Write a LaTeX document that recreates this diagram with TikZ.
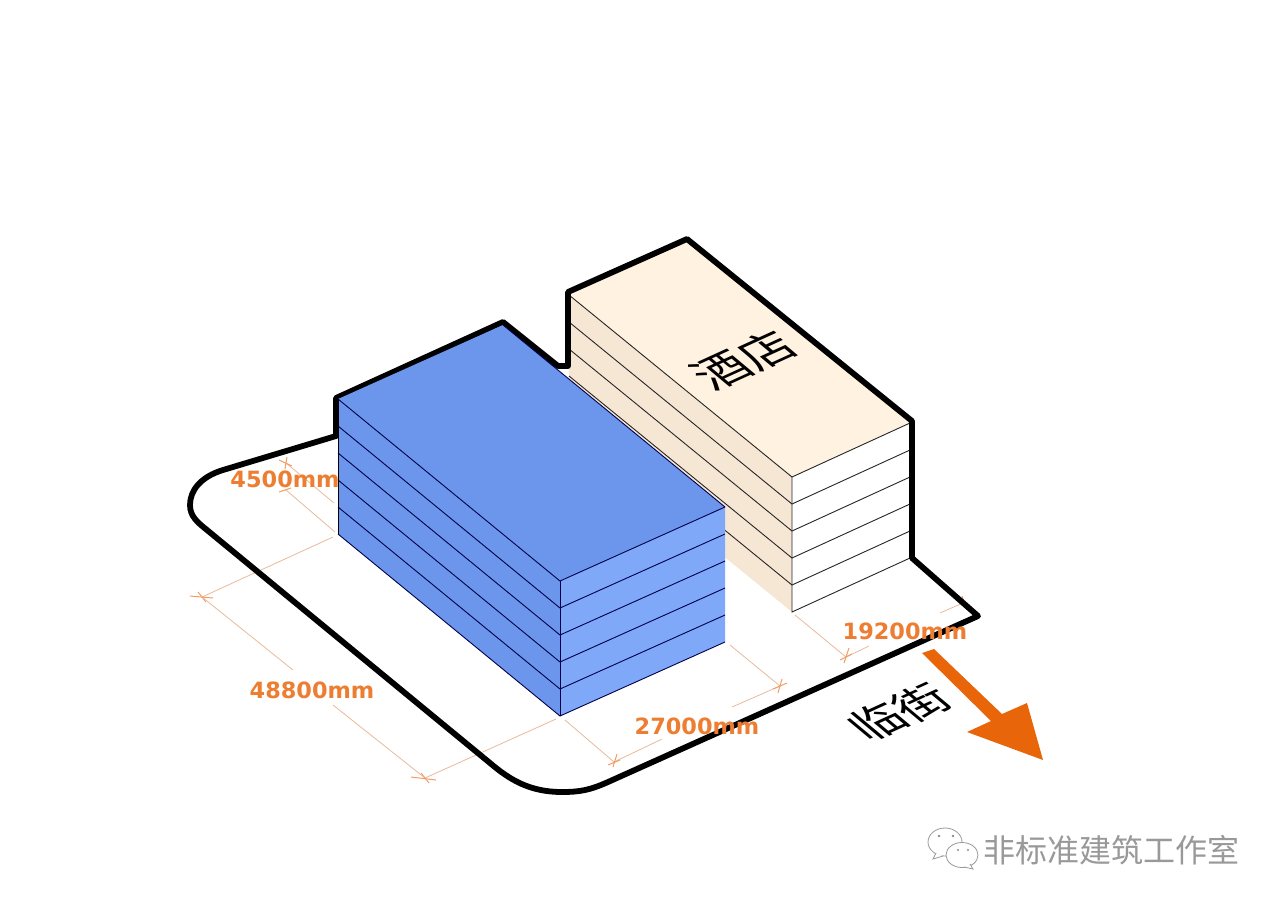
\documentclass[tikz,border=0pt]{standalone}
\usepackage{fontspec}
\setmainfont{DejaVu Sans}
\newfontfamily\cjk{Noto Sans CJK SC}
\definecolor{blueTop}{HTML}{6C96EC}
\definecolor{blueLeft}{HTML}{6C96EC}
\definecolor{blueRight}{HTML}{7FA8F8}
\definecolor{hotelTop}{HTML}{FFF2E0}
\definecolor{hotelLeft}{HTML}{F6E7D5}
\definecolor{dimOrange}{HTML}{ED7D31}
\definecolor{dimLine}{HTML}{E9B99A}
\definecolor{arrowOrange}{HTML}{E8650A}
\tikzset{
 outline/.style={line width=2.9pt,line join=round,black},
 edge/.style={line width=0.45pt,draw=black!85},
 blueedge/.style={line width=0.45pt,draw=black!70!blue},
 dimstyle/.style={line width=0.4pt,draw=dimLine},
 tickstyle/.style={line width=0.5pt,draw=dimOrange!75},
 dimlabel/.style={font=\bfseries\fontsize{11.2}{13}\selectfont,text=dimOrange,inner sep=0pt},
 bubble/.style={line width=0.4pt,draw=black!40,fill=white},
}
\begin{document}
\begin{tikzpicture}[x=0.5pt,y=-0.5pt]
\useasboundingbox (0,0) rectangle (1280,907);
% hotel
\fill[hotelTop] (569,295) -- (687,241) -- (910,423) -- (792,477) -- cycle;
\fill[hotelLeft] (569,295) -- (792,477) -- (792,612) -- (569,430) -- cycle;
\fill[white] (792,477) -- (910,423) -- (910,558) -- (792,612) -- cycle;
\draw[edge] (569,295) -- (792,477) -- (910,423);
\draw[edge] (792,477) -- (792,612) -- (910,558);
\foreach \k in {1,...,4}{
  \draw[edge] (569,295+27*\k) -- (792,477+27*\k) -- (910,423+27*\k);
}
% dimension lines
\draw[dimstyle] (286,463) -- (334,503);
\draw[dimstyle] (286,490) -- (335,532);
\draw[dimstyle] (333,537) -- (202,597);
\draw[dimstyle] (202,597) -- (293,670);
\draw[dimstyle] (333,705) -- (425,778);
\draw[dimstyle] (425,778) -- (556,719);
\draw[dimstyle] (565,720) -- (614,762) -- (662,739);
\draw[dimstyle] (732,707) -- (780,686) -- (730,645);
\draw[dimstyle] (795,615) -- (846,657) -- (869,646);
\draw[dimstyle] (940,613) -- (965,602);
% ticks
\draw[tickstyle] (190,596) -- (213,598);
\draw[tickstyle] (198,592) -- (206,602);
\draw[tickstyle] (411,777) -- (436,780);
\draw[tickstyle] (421,773) -- (429,783);
\draw[tickstyle] (617,754) -- (613,767);
\draw[tickstyle] (608,765) -- (620,760);
\draw[tickstyle] (782,679) -- (778,693);
\draw[tickstyle] (773,689) -- (787,683);
\draw[tickstyle] (849,648) -- (844,663);
\draw[tickstyle] (840,660) -- (852,654);
\draw[tickstyle] (962,596) -- (966,608);
\draw[tickstyle] (279,460) -- (292,466);
\draw[tickstyle] (287,457) -- (285,469);
\draw[tickstyle] (279,492) -- (291,488);
% site outline
\draw[outline] (336,436) -- (223,470)
  .. controls (200,477) and (190,491) .. (190,505)
  .. controls (190,516) and (197,522) .. (207,530)
  -- (490,763)
  .. controls (510,780) and (530,792) .. (562,792)
  .. controls (580,792) and (590,790) .. (608,782)
  -- (978,616) -- (912,558) -- (912,421) -- (687,239) -- (568,292) -- (568,366)
  -- (558,366) -- (503,322) -- (336,398) -- cycle;
% blue block
\fill[blueTop] (338,399) -- (503,325) -- (725,507) -- (560,581) -- cycle;
\fill[blueLeft] (338,399) -- (560,581) -- (560,716) -- (338,534) -- cycle;
\fill[blueRight] (560,581) -- (725,507) -- (725,642) -- (560,716) -- cycle;
\draw[blueedge] (338,399) -- (560,581) -- (725,507);
\draw[blueedge] (560,581) -- (560,716);
\draw[blueedge] (338,534) -- (560,716) -- (725,642);
\draw[blueedge] (503,325) -- (725,507);
\foreach \k in {1,...,4}{
  \draw[blueedge] (338,399+27*\k) -- (560,581+27*\k) -- (725,507+27*\k);
}
\draw[line width=0.5pt,black] (338,399) -- (338,534);
% arrow
\fill[arrowOrange] (922,653) -- (934,649) -- (1002,714) -- (1027,703) -- (1043,760) -- (967,732) -- (991,721) -- cycle;
% labels
\node[dimlabel] (l4500) at (285,479) {4500mm};
\node[dimlabel] (l48800) at (312,690) {48800mm};
\node[dimlabel] (l27000) at (697,726) {27000mm};
\node[dimlabel] (l19200) at (905,631) {19200mm};
\node[transform shape,cm={.91,.416,-.72,.60,(744,360)},inner sep=0pt,font=\cjk\fontsize{24.5}{27}\selectfont] (hotel) at (0,0) {酒店};
\node[transform shape,cm={.91,.416,-.72,.60,(899,712)},inner sep=0pt,font=\cjk\fontsize{24}{26}\selectfont] (street) at (0,0) {临街};
% watermark
\draw[bubble] (945,842) ellipse (17 and 14);
\draw[bubble] (936,853) -- (933,859) -- (943,856);
\fill[black!45] (939,836) circle (1.3) (953,836) circle (1.3);
\draw[bubble] (962,855) ellipse (16 and 12.5);
\draw[bubble] (970,864) -- (973,869) -- (964,867);
\fill[black!45] (958,850) circle (1.2) (968,850) circle (1.2);
\node[inner sep=0pt,text=black!40,font=\cjk\fontsize{16}{18}\selectfont] (mark) at (1111,850) {非标准建筑工作室};
\end{tikzpicture}
\end{document}
